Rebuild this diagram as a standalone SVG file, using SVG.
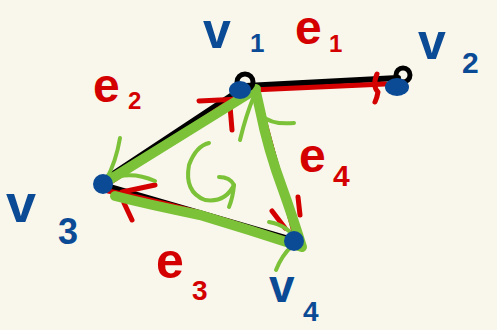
<svg xmlns="http://www.w3.org/2000/svg" width="497" height="330" viewBox="0 0 497 330">
<style>
.blk{stroke:#000;stroke-width:6;fill:none;stroke-linecap:round;stroke-linejoin:round}
.red{stroke:#d40000;stroke-width:5;fill:none;stroke-linecap:round;stroke-linejoin:round}
.grn{stroke:#7cc238;stroke-width:10;fill:none;stroke-linecap:round;stroke-linejoin:round}
.gth{stroke:#7cc238;stroke-width:4;fill:none;stroke-linecap:round;stroke-linejoin:round}
.dot{fill:#0b4a95}
.lb{fill:#0b4a95;font-family:"Liberation Sans",Arial,sans-serif;font-weight:bold}
.le{fill:#d40000;font-family:"Liberation Sans",Arial,sans-serif;font-weight:bold}
</style>
<rect width="497" height="330" fill="#f9f6eb"/>
<g id="connectors">
  <path class="blk" d="M246,86 L398,78"/>
  <path class="blk" d="M240,90 L104,180"/>
  <path class="blk" d="M256,96 L296,234"/>
  <path class="blk" d="M106,186 L292,240"/>
  <path class="red" d="M252,90 L385,84"/>
  <path class="red" d="M377,74 Q372,86 378,92 Q377,98 375,102"/>
  <path class="red" d="M242,93 L108,184"/>
  <path class="red" d="M199,101 L240,99"/>
  <path class="red" d="M230,106 L232,130"/>
  <path class="red" d="M259,100 L295,236"/>
  <path class="red" d="M108,191 Q170,203 230,222 L290,241"/>
  <path class="red" d="M122,192 L155,185"/>
  <path class="red" d="M124,203 L132,220"/>
  <path class="red" d="M272,211 L285,228"/>
  <path class="red" d="M298,197 L300,215"/>
  <path class="grn" d="M256,89 L106,182 M115,196 Q150,205 200,215 Q250,230 302,247 Q292,215 283,190 Q268,150 260,110 L256,92"/>
  <path class="gth" d="M120,138 Q116,162 106,180 M108,180 Q130,170 155,181"/>
  <path class="gth" d="M269,222 Q288,225 298,242 M276,270 Q282,255 292,246"/>
  <path class="gth" d="M240,140 Q246,115 254,96 M294,123 Q272,125 262,116"/>
  <path class="gth" d="M209,143 Q196,146 189,165 Q184,192 205,200 Q225,203 234,185"/>
  <path class="gth" d="M219,177 Q230,177 234,185 Q233,197 229,207"/>
</g>
<g id="v1">
  <circle cx="245" cy="82" r="8" fill="none" stroke="#000" stroke-width="5"/>
  <ellipse class="dot" cx="240" cy="90" rx="11" ry="9"/>
  <text class="lb" x="203" y="48" font-size="50">v</text>
  <text class="lb" x="250" y="52" font-size="26">1</text>
</g>
<g id="v2">
  <circle cx="403" cy="75" r="7" fill="none" stroke="#000" stroke-width="5"/>
  <ellipse class="dot" cx="397" cy="87" rx="12" ry="9"/>
  <text class="lb" x="418" y="59" font-size="50">v</text>
  <text class="lb" x="462" y="73" font-size="30">2</text>
</g>
<g id="v3">
  <ellipse class="dot" cx="103" cy="184" rx="10" ry="10"/>
  <text class="lb" x="6" y="222" font-size="54">v</text>
  <text class="lb" x="58" y="244" font-size="36">3</text>
</g>
<g id="v4">
  <ellipse class="dot" cx="294" cy="241" rx="10" ry="10"/>
  <text class="lb" x="269" y="302" font-size="46">v</text>
  <text class="lb" x="303" y="321" font-size="28">4</text>
</g>
<g id="edge-labels">
  <text class="le" x="295" y="44" font-size="48">e</text>
  <text class="le" x="329" y="52" font-size="24">1</text>
  <text class="le" x="93" y="102" font-size="48">e</text>
  <text class="le" x="128" y="109" font-size="24">2</text>
  <text class="le" x="156" y="278" font-size="50">e</text>
  <text class="le" x="192" y="300" font-size="28">3</text>
  <text class="le" x="299" y="172" font-size="48">e</text>
  <text class="le" x="333" y="186" font-size="30">4</text>
</g>
</svg>
